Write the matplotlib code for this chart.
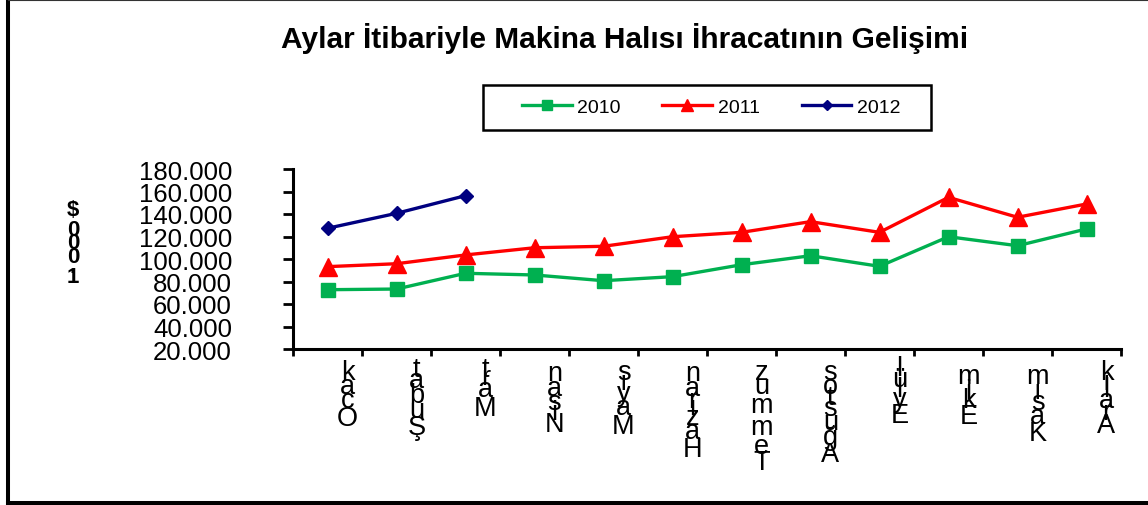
import matplotlib
matplotlib.use("Agg")
import matplotlib.pyplot as plt
from matplotlib import font_manager
from matplotlib.ft2font import FT2Font
from matplotlib.lines import Line2D
from matplotlib.patches import Rectangle
from matplotlib.ticker import FuncFormatter
import numpy as np

plt.rcParams["font.family"] = "Liberation Sans"

# data (1000 $)
months = ["Ocak", "Şubat", "Mart", "Nisan", "Mayıs", "Haziran",
          "Temmuz", "Ağustos", "Eylül", "Ekim", "Kasım", "Aralık"]
exp_2010 = [72700, 73300, 87300, 85800, 80700, 84300,
            94900, 102900, 93500, 119800, 111800, 126700]
exp_2011 = [93200, 95800, 103600, 110000, 111300, 119800,
            123700, 133200, 123700, 154800, 137100, 148900]
exp_2012 = [127300, 140600, 156300]
years = ["2010", "2011", "2012"]
yticks = [20000, 40000, 60000, 80000, 100000, 120000, 140000, 160000, 180000]
title = "Aylar İtibariyle Makina Halısı İhracatının Gelişimi"
ylabel = "1.000 $"

green, red, navy = "#00B050", "#FF0000", "#000080"

W, H = 1148, 506
fig = plt.figure(figsize=(W / 100, H / 100), dpi=100)


def fx(x):
    return x / W


def fy(y):
    # pixel row from the top -> figure fraction
    return 1 - y / H


ax = fig.add_axes([fx(293), fy(350), fx(1121 - 293), (350 - 170) / H])

x = np.arange(len(months))
ax.plot(x, exp_2010, color=green, lw=2.4, marker="s", ms=9.5, mec=green, zorder=3)
ax.plot(x, exp_2011, color=red, lw=2.4, marker="^", ms=12.5, mec=red, zorder=3)
ax.plot(x[:len(exp_2012)], exp_2012, color=navy, lw=2.4, marker="D", ms=7, mec=navy, zorder=4)

ax.set_xlim(-0.5, len(months) - 0.5)
ax.set_ylim(yticks[0], yticks[-1])
ax.set_yticks(yticks)
ax.yaxis.set_major_formatter(FuncFormatter(lambda v, p: f"{int(v):,}".replace(",", ".")))
ax.set_xticks(np.arange(-0.5, len(months), 1))
ax.tick_params(axis="y", direction="out", length=7, width=2, pad=37, labelsize=18.5)
ax.tick_params(axis="x", direction="out", length=5, width=2, labelbottom=False)
for s in ["top", "right"]:
    ax.spines[s].set_visible(False)
for s in ["left", "bottom"]:
    ax.spines[s].set_linewidth(2.2)


def advances(text, size, weight):
    fp = font_manager.FontProperties(family="Liberation Sans", weight=weight)
    ft = FT2Font(font_manager.findfont(fp))
    ft.set_size(size, 72)
    return [ft.load_char(ord(c)).linearHoriAdvance / 65536 for c in text]


def stacked(text, xy, xycoords, dx, top, size, weight="normal", step=None):
    # characters laid out like rotated text, but drawn upright
    chars = text[::-1]
    pos = top
    for c, a in zip(chars, advances(chars, step or size, weight)):
        ax.annotate(c, xy=xy, xycoords=xycoords, xytext=(dx, -(pos + a / 2)),
                    textcoords="offset points", ha="center", va="center",
                    fontsize=size, fontweight=weight, annotation_clip=False)
        pos += a


for i, m in enumerate(months):
    stacked(m, (i, 0), ("data", "axes fraction"), 14.4, 11.5, 19.5)

stacked(ylabel, (fx(73), fy(204)), "figure fraction", 0, 0, 16, "bold", step=17.3)

fig.text(fx(625), fy(48.3), title, ha="center", va="baseline",
         fontsize=21.5, fontweight="bold")

handles = [
    Line2D([], [], color=green, lw=2.4, marker="s", ms=7, mec=green),
    Line2D([], [], color=red, lw=2.4, marker="^", ms=8.5, mec=red),
    Line2D([], [], color=navy, lw=2.4, marker="D", ms=5, mec=navy),
]
fig.legend(handles, years, ncol=3, loc="center", bbox_to_anchor=(fx(711), fy(108)),
           frameon=False, fontsize=14, handlelength=2.57, handletextpad=0.26,
           columnspacing=2.16, borderpad=0, borderaxespad=0)
fig.add_artist(Rectangle((fx(483), fy(131)), fx(931 - 483), 45 / H,
                         transform=fig.transFigure, fill=False, lw=1.8, ec="black"))

# outer chart border
fig.add_artist(Line2D([fx(8), fx(8)], [0, 1], transform=fig.transFigure, lw=2.9, color="black"))
fig.add_artist(Line2D([fx(8), 1], [fy(504), fy(504)], transform=fig.transFigure, lw=2.9, color="black"))
fig.add_artist(Line2D([fx(8), 1], [fy(0.5), fy(0.5)], transform=fig.transFigure, lw=0.8, color="#333333"))

fig.savefig("out.png", dpi=100)
